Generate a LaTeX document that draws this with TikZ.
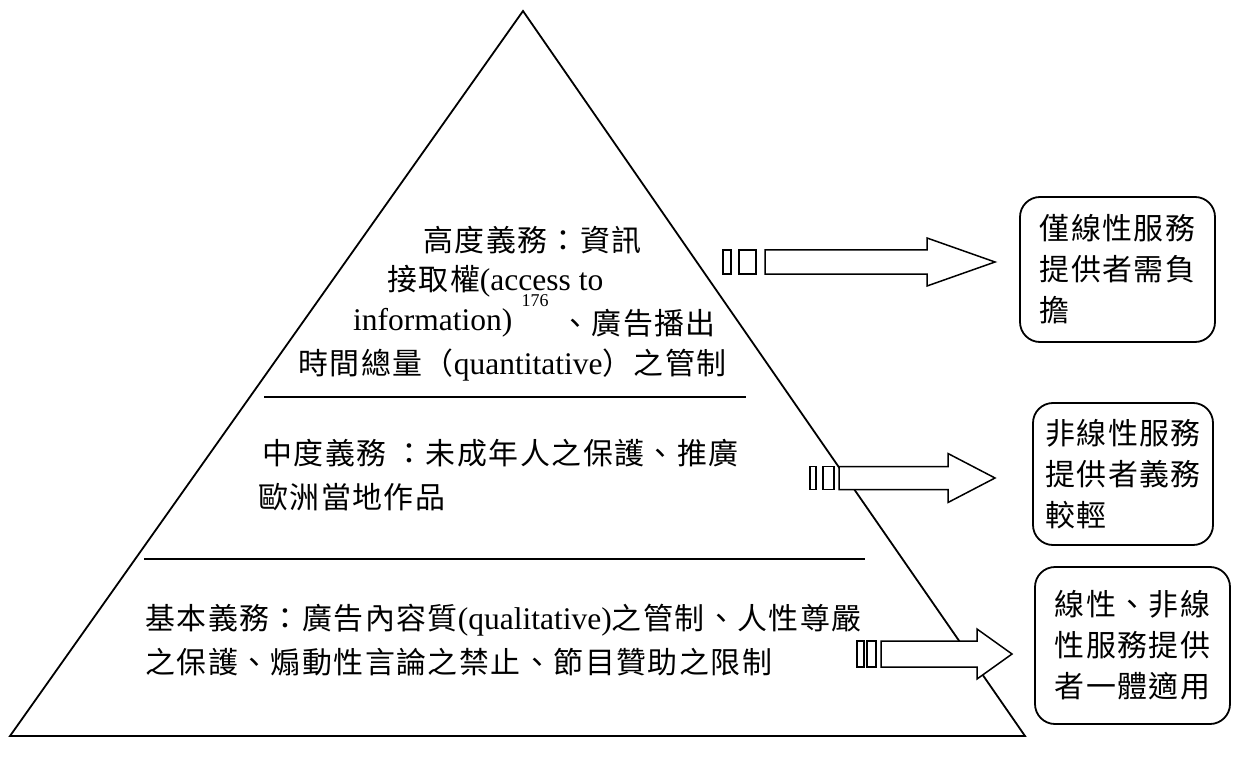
\documentclass[tikz,border=0pt]{standalone}
\usepackage{fontspec}
\setmainfont{Liberation Serif}
\newfontfamily\cjk[Scale=0.95,LetterSpace=5]{Noto Sans CJK TC}
\newcommand\C[1]{{\cjk #1}}
\begin{document}
\begin{tikzpicture}[x=1pt,y=-1pt,
  every node/.style={inner sep=0pt},
  txt/.style={anchor=west, font=\fontsize{31.5}{36}\selectfont},
  sup/.style={font=\fontsize{18}{20}\selectfont},
  tri/.style={line width=1.8pt, line join=miter},
  divider/.style={line width=2pt},
  arr/.style={draw, fill=white, line width=1.5pt},
  box/.style={draw, line width=1.8pt, rounded corners=20pt, align=left,
    font=\fontsize{31.5}{41}\selectfont\cjk}]
\useasboundingbox (0,0) rectangle (1237,778);

% pyramid
\coordinate (apex) at (523,11);
\coordinate (bl) at (10,736);
\coordinate (br) at (1025,736);
\draw[tri] (apex) -- (bl) -- (br) -- cycle;
\coordinate (d1a) at (264,397);
\coordinate (d1b) at (746,397);
\coordinate (d2a) at (144,559);
\coordinate (d2b) at (865,559);
\draw[divider] (d1a) -- (d1b);
\draw[divider] (d2a) -- (d2b);

% top level text
\node[txt] (t1) at (423,240) {\C{高度義務：資訊}};
\node[txt] (t2) at (387,281) {\C{接取權}(access to};
\node[sup] (t3) at (535,301) {176};
\node[txt] (t4a) at (353,323) {information)};
\node[txt] (t4b) at (560,323) {\C{、廣告播出}};
\node[txt] (t5) at (298,365) {\C{時間總量（}quantitative\C{）之管制}};

% middle level text
\node[txt] (m1) at (262,453) {\C{中度義務 ：未成年人之保護、推廣}};
\node[txt] (m2) at (258,497) {\C{歐洲當地作品}};

% bottom level text
\node[txt] (b1) at (145,620) {\C{基本義務：廣告內容質}(qualitative)\C{之管制、人性尊嚴}};
\node[txt] (b2) at (145,662) {\C{之保護、煽動性言論之禁止、節目贊助之限制}};

% block arrows
\draw[arr] (723,250) rectangle (731,274);
\draw[arr] (739,250) rectangle (756,274);
\draw[arr] (765,250) -- (927,250) -- (927,238) -- (995,262) -- (927,286) -- (927,274) -- (765,274) -- cycle;

\draw[arr] (810,466.5) rectangle (816,489.5);
\draw[arr] (823,466.5) rectangle (834,489.5);
\draw[arr] (839,466.5) -- (948,466.5) -- (948,453.5) -- (995,478) -- (948,502.5) -- (948,489.5) -- (839,489.5) -- cycle;

\draw[arr] (857,641) rectangle (864,667);
\draw[arr] (867,641) rectangle (876,667);
\draw[arr] (881,641) -- (977,641) -- (977,629) -- (1012,654) -- (977,679) -- (977,667) -- (881,667) -- cycle;

% result boxes
\node[box, minimum width=195pt, minimum height=145pt] (box1) at (1117.5,269.5)
  {僅線性服務\\提供者需負\\擔};
\node[box, minimum width=180pt, minimum height=142pt] (box2) at (1123,474)
  {非線性服務\\提供者義務\\較輕};
\node[box, minimum width=195pt, minimum height=157pt] (box3) at (1132.5,645.5)
  {線性、非線\\性服務提供\\者一體適用};
\end{tikzpicture}
\end{document}
